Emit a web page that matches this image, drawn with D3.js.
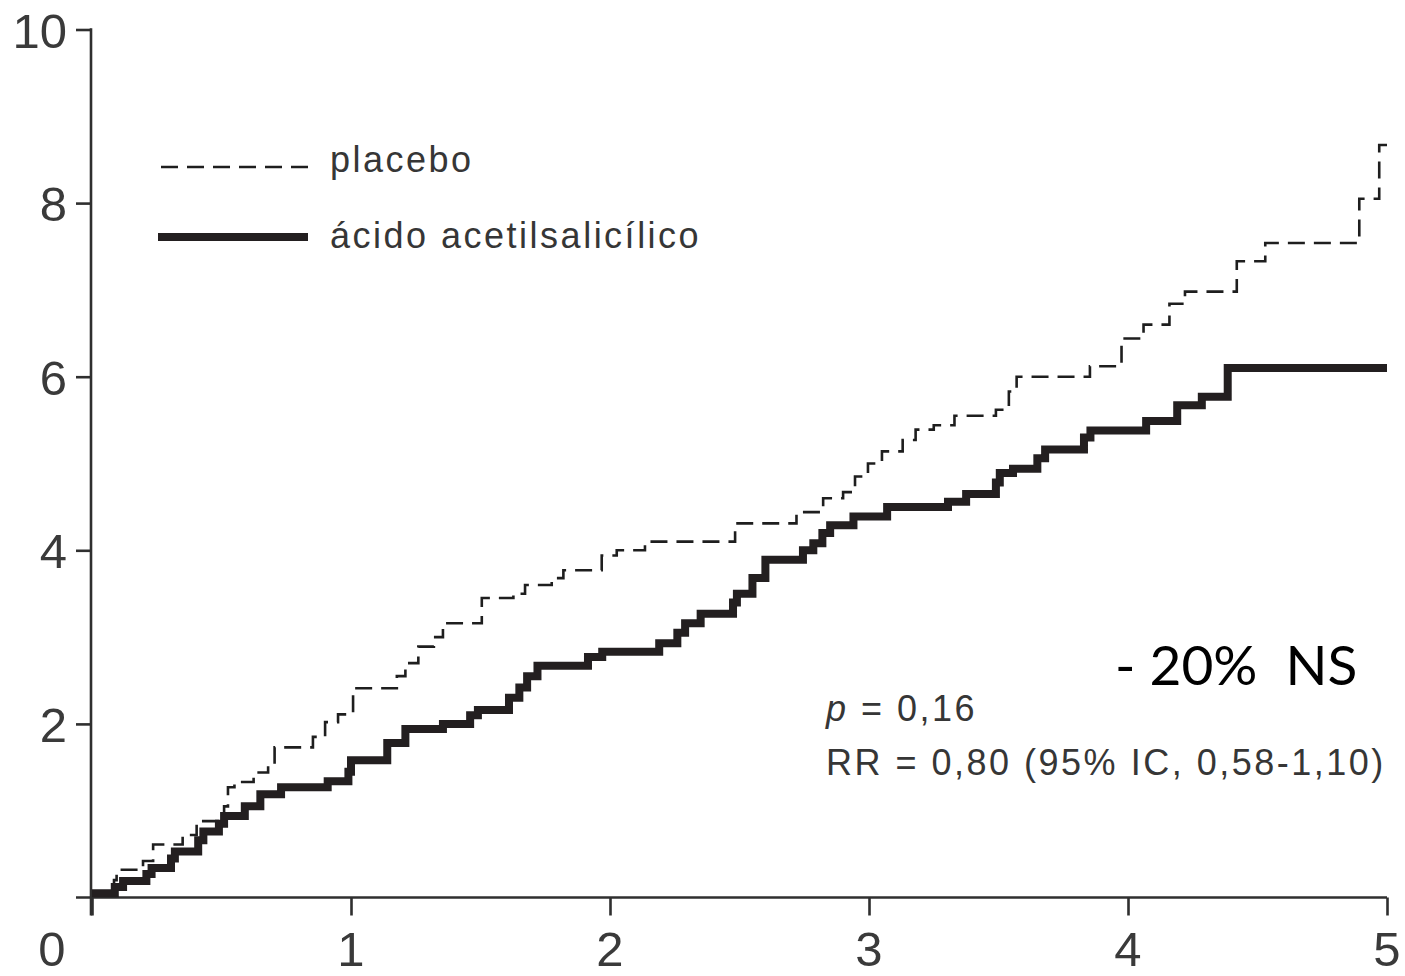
<!DOCTYPE html>
<html>
<head>
<meta charset="utf-8">
<script src="https://cdn.jsdelivr.net/npm/d3@7"></script>
<style>
  html, body { margin: 0; padding: 0; background: #fff; }
  svg { display: block; }
  .tick-label { font-family: "Liberation Sans", Arial, sans-serif; font-weight: 400; fill: #3a3a3a; }
  .note { font-family: "Liberation Sans", Arial, sans-serif; font-weight: 400; fill: #363636; letter-spacing: 2.5px; }
</style>
</head>
<body>
<script>
// Cumulative event curves (%), step changes over years of follow-up
const placeboTime = [0, 0.085, 0.095, 0.197, 0.236, 0.35, 0.404, 0.51, 0.525, 0.55, 0.624, 0.68, 0.705,
  0.853, 0.9, 0.95, 1.008, 1.177, 1.21, 1.26, 1.32, 1.355, 1.505, 1.627, 1.672, 1.775, 1.82, 1.968,
  2.026, 2.135, 2.483, 2.72, 2.823, 2.9, 2.946, 2.996, 3.05, 3.13, 3.18, 3.25, 3.33, 3.49, 3.54, 3.57,
  3.853, 3.975, 4.06, 4.16, 4.22, 4.42, 4.53, 4.893, 4.97, 5.0];
const placeboValue = [0.05, 0.2, 0.32, 0.42, 0.61, 0.72, 0.88, 1.05, 1.27, 1.33, 1.44, 1.54, 1.73,
  1.85, 2.02, 2.11, 2.41, 2.55, 2.7, 2.89, 3.0, 3.16, 3.45, 3.5, 3.6, 3.68, 3.77, 3.94,
  4.0, 4.1, 4.31, 4.44, 4.6, 4.67, 4.85, 5.0, 5.14, 5.27, 5.39, 5.44, 5.55, 5.62, 5.83, 6.0,
  6.12, 6.44, 6.6, 6.84, 6.98, 7.33, 7.54, 8.05, 8.67, 8.67];

const aspirinTime = [0, 0.088, 0.12, 0.21, 0.23, 0.305, 0.32, 0.41, 0.43, 0.49, 0.51, 0.59, 0.65, 0.73,
  0.91, 0.99, 1.0, 1.14, 1.21, 1.355, 1.46, 1.49, 1.61, 1.65, 1.68, 1.72, 1.915, 1.97, 2.19, 2.26,
  2.29, 2.35, 2.475, 2.49, 2.55, 2.6, 2.745, 2.785, 2.82, 2.85, 2.94, 3.07, 3.305, 3.375, 3.49,
  3.505, 3.556, 3.65, 3.68, 3.83, 3.855, 4.07, 4.19, 4.285, 4.385, 5.0];
const aspirinValue = [0.05, 0.12, 0.19, 0.27, 0.34, 0.45, 0.53, 0.66, 0.76, 0.85, 0.94, 1.05, 1.19, 1.27,
  1.34, 1.45, 1.58, 1.78, 1.94, 2.0, 2.1, 2.16, 2.3, 2.42, 2.55, 2.67, 2.77, 2.83, 2.93, 3.05,
  3.16, 3.27, 3.4, 3.5, 3.68, 3.89, 4.0, 4.08, 4.2, 4.29, 4.39, 4.5, 4.56, 4.65, 4.78,
  4.89, 4.94, 5.06, 5.16, 5.3, 5.38, 5.49, 5.67, 5.77, 6.1, 6.1];

const xTicks = [0, 1, 2, 3, 4, 5];
const yTicks = [0, 2, 4, 6, 8, 10];
const seriesNames = ["placebo", "ácido acetilsalicílico"];
const pText = "0,16";
const rrText = "RR = 0,80 (95% IC, 0,58-1,10)";
const effectText = "- 20%  NS";

const W = 1405, H = 976;
const svg = d3.select("body").append("svg").attr("width", W).attr("height", H);

const x = d3.scaleLinear().domain([0, 5]).range([92, 1387]);
const y = d3.scaleLinear().domain([0, 10]).range([897.5, 29.5]);

const axisColor = "#2f2f2f";

// x axis
const xAxis = svg.append("g")
  .attr("transform", `translate(0,${y(0)})`)
  .call(d3.axisBottom(x).tickValues(xTicks).tickSize(18).tickFormat(""));
xAxis.select(".domain").remove();
xAxis.selectAll(".tick line").attr("stroke", axisColor).attr("stroke-width", 2.6);
svg.append("line")
  .attr("x1", 76).attr("x2", x(5))
  .attr("y1", y(0)).attr("y2", y(0))
  .attr("stroke", axisColor).attr("stroke-width", 2.6);

// y axis
const yAxis = svg.append("g")
  .attr("transform", `translate(${x(0) - 1},0)`)
  .call(d3.axisLeft(y).tickValues(yTicks.filter(d => d > 0)).tickSize(15).tickFormat(""));
yAxis.select(".domain").remove();
yAxis.selectAll(".tick line").attr("stroke", axisColor).attr("stroke-width", 2.6);
svg.append("line")
  .attr("x1", x(0) - 1).attr("x2", x(0) - 1)
  .attr("y1", y(10) - 1.3).attr("y2", y(0) + 18)
  .attr("stroke", axisColor).attr("stroke-width", 2.6);

// tick labels
svg.append("g").selectAll("text")
  .data(xTicks)
  .join("text")
  .attr("class", "tick-label")
  .attr("x", d => d === 0 ? 52 : x(d))
  .attr("y", 966)
  .attr("text-anchor", "middle")
  .attr("font-size", 49)
  .text(d => d);

svg.append("g").selectAll("text")
  .data(yTicks.filter(d => d > 0))
  .join("text")
  .attr("class", "tick-label")
  .attr("x", 67)
  .attr("y", d => y(d) + 18)
  .attr("text-anchor", "end")
  .attr("font-size", 49)
  .text(d => d);

// curves
const line = d3.line()
  .x(d => x(d[0]))
  .y(d => y(d[1]))
  .curve(d3.curveStepAfter);

const placebo = placeboTime.map((t, i) => [t, placeboValue[i]]);
const aspirin = aspirinTime.map((t, i) => [t, aspirinValue[i]]);

svg.append("path")
  .datum(placebo)
  .attr("d", line)
  .attr("fill", "none")
  .attr("stroke", "#1e1e1e")
  .attr("stroke-width", 2.6)
  .attr("stroke-dasharray", "17 9");

svg.append("path")
  .datum(aspirin)
  .attr("d", line)
  .attr("fill", "none")
  .attr("stroke", "#231f20")
  .attr("stroke-width", 8)
  .attr("stroke-linejoin", "miter");

// legend
const legend = svg.append("g");
legend.append("line")
  .attr("x1", 161).attr("x2", 308).attr("y1", 167).attr("y2", 167)
  .attr("stroke", "#1e1e1e").attr("stroke-width", 2.6).attr("stroke-dasharray", "17 9");
legend.append("line")
  .attr("x1", 158).attr("x2", 308).attr("y1", 237).attr("y2", 237)
  .attr("stroke", "#231f20").attr("stroke-width", 8);
legend.selectAll("text")
  .data(seriesNames)
  .join("text")
  .attr("class", "note")
  .attr("x", 330)
  .attr("y", (d, i) => i === 0 ? 172 : 248)
  .attr("font-size", 36)
  .text(d => d);

// statistics
const pLine = svg.append("text")
  .attr("class", "note")
  .attr("x", 826).attr("y", 721)
  .attr("font-size", 36);
pLine.append("tspan").attr("font-style", "italic").text("p");
pLine.append("tspan").text(" = " + pText);

svg.append("text")
  .attr("class", "note")
  .attr("x", 826).attr("y", 775)
  .attr("font-size", 36)
  .text(rrText);

svg.append("text")
  .attr("x", 1115).attr("y", 685)
  .attr("font-family", "Lato, 'Open Sans', sans-serif")
  .attr("font-size", 55)
  .attr("fill", "#000")
  .style("white-space", "pre")
  .text(effectText);
</script>
</body>
</html>
